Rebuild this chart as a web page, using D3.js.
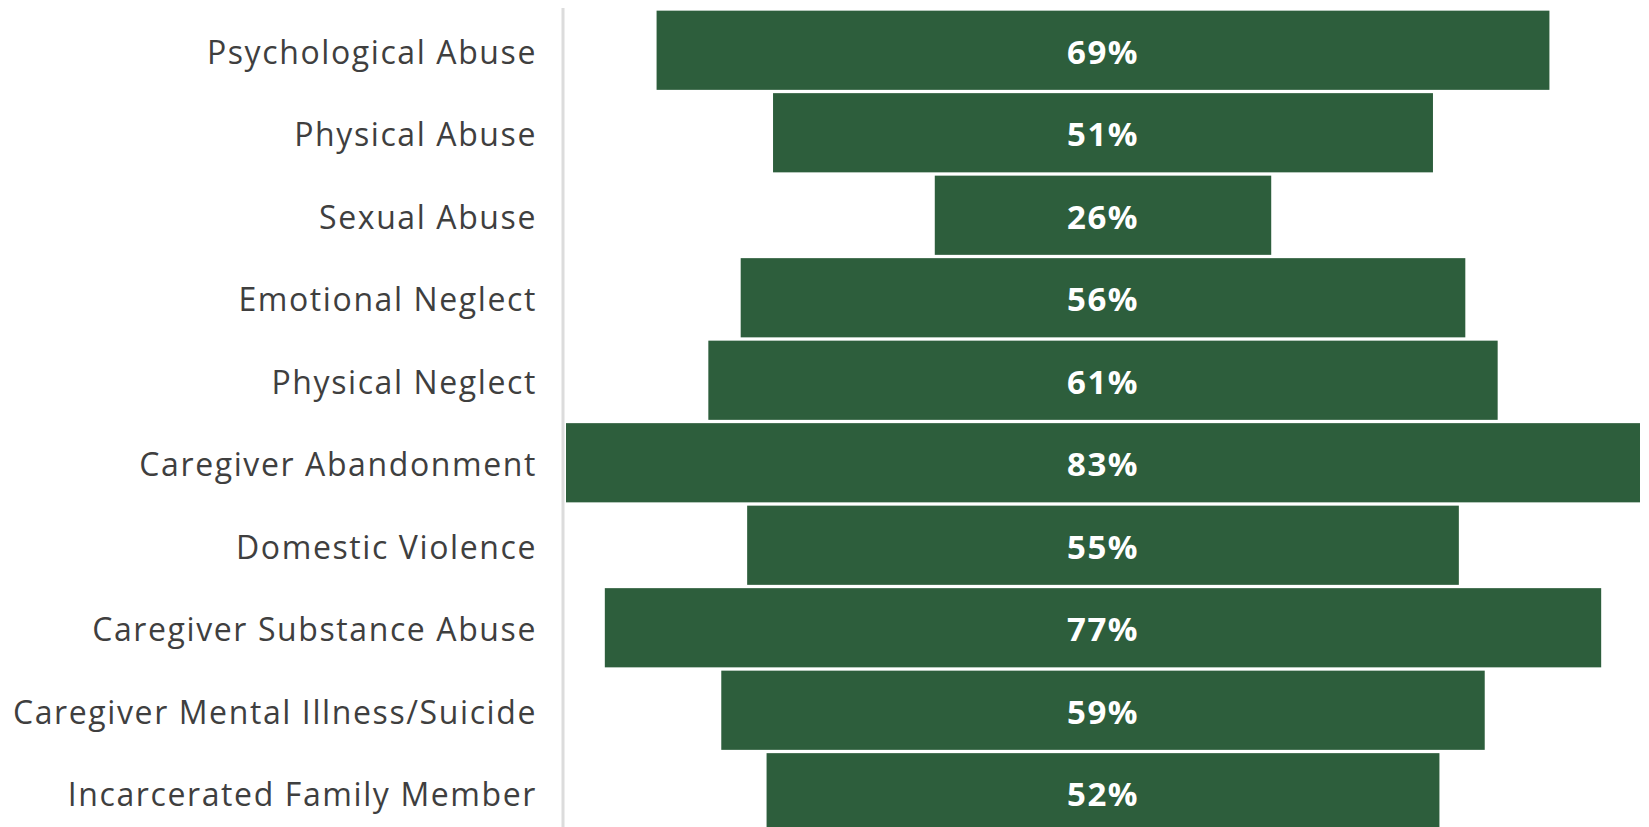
<!DOCTYPE html>
<html>
<head>
<meta charset="utf-8">
<script src="https://cdn.jsdelivr.net/npm/d3@7"></script>
<style>
  html, body { margin: 0; padding: 0; background: #ffffff; }
  svg { display: block; }
</style>
</head>
<body>
<svg id="chart" width="1649" height="827"></svg>
<script>
// Share of respondents reporting each adverse childhood experience
const categories = [
  "Psychological Abuse",
  "Physical Abuse",
  "Sexual Abuse",
  "Emotional Neglect",
  "Physical Neglect",
  "Caregiver Abandonment",
  "Domestic Violence",
  "Caregiver Substance Abuse",
  "Caregiver Mental Illness/Suicide",
  "Incarcerated Family Member"
];
const values = [69, 51, 26, 56, 61, 83, 55, 77, 59, 52];

const W = 1649, H = 827;
const axisX = 563;          // vertical baseline separating labels from the funnel
const plotLeft = 566, plotRight = 1640;
const centerX = (plotLeft + plotRight) / 2;

const svg = d3.select("#chart");

// Bar widths: the widest stage fills the whole plot width
const w = d3.scaleLinear()
  .domain([0, d3.max(values)])
  .range([0, plotRight - plotLeft]);

const y = d3.scaleBand()
  .domain(categories)
  .range([9, 9 + 82.5 * categories.length])
  .paddingInner(0.04)
  .paddingOuter(0.02);

const green = "#2d5e3c";

// Category labels to the left of the baseline
svg.append("g")
  .selectAll("text")
  .data(categories)
  .join("text")
  .attr("x", 537)
  .attr("y", d => y(d) + y.bandwidth() / 2 + 1)
  .attr("text-anchor", "end")
  .attr("dominant-baseline", "central")
  .attr("font-family", "'Open Sans', 'Noto Sans', sans-serif")
  .attr("font-size", 32)
  .attr("letter-spacing", 1.6)
  .attr("fill", "#3f3f3f")
  .text(d => d);

// Baseline
svg.append("line")
  .attr("x1", axisX).attr("x2", axisX)
  .attr("y1", 8).attr("y2", H)
  .attr("stroke", "#dcdcdc")
  .attr("stroke-width", 3);

// Funnel bars, centred on the plot
svg.append("g")
  .selectAll("rect")
  .data(categories)
  .join("rect")
  .attr("x", (d, i) => centerX - w(values[i]) / 2)
  .attr("y", d => y(d))
  .attr("width", (d, i) => w(values[i]))
  .attr("height", y.bandwidth())
  .attr("fill", green);

// Value labels inside the bars
svg.append("g")
  .selectAll("text")
  .data(categories)
  .join("text")
  .attr("x", centerX)
  .attr("y", d => y(d) + y.bandwidth() / 2 + 1)
  .attr("text-anchor", "middle")
  .attr("dominant-baseline", "central")
  .attr("font-family", "'Open Sans', 'Noto Sans', sans-serif")
  .attr("font-weight", "bold")
  .attr("font-size", 33)
  .attr("letter-spacing", 1.5)
  .attr("fill", "#ffffff")
  .text((d, i) => values[i] + "%");
</script>
</body>
</html>
